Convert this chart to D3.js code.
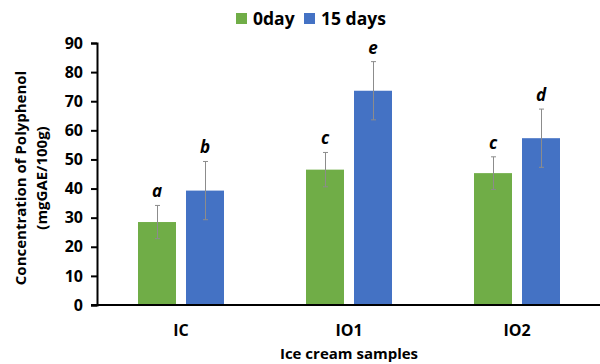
<!doctype html>
<html>
<head>
<meta charset="utf-8">
<script src="https://cdn.jsdelivr.net/npm/d3@7"></script>
<style>
	body { margin: 0; background: #fff; }
	text { font-family: "Open Sans", "Noto Sans", sans-serif; font-weight: bold; }
</style>
</head>
<body>
<div id="main"></div>
<script>
// data
var categories = ['IC', 'IO1', 'IO2'];
var seriesNames = ['0day', '15 days'];
var day0 = [28.5, 46.5, 45.3];
var day15 = [39.3, 73.6, 57.3];
var err0 = [5.7, 5.9, 5.6];
var err15 = [10, 10, 10];
var letters0 = ['a', 'c', 'c'];
var letters15 = ['b', 'e', 'd'];
var yTicks = [0, 10, 20, 30, 40, 50, 60, 70, 80, 90];
var colors = ['#70AD47', '#4472C4'];

var width = 600, height = 364;
var margin = { top: 43, right: 0, bottom: 59, left: 97 };

var svg = d3.select('#main').append('svg')
	.attr('width', width)
	.attr('height', height);

var x0 = d3.scaleBand()
	.domain(categories)
	.range([margin.left, 601])
	.padding(0);

var bw = x0.bandwidth();
var x1 = d3.scaleBand()
	.domain(seriesNames)
	.range([bw / 2 - 43, bw / 2 + 43])
	.paddingInner(10 / 48);

var y = d3.scaleLinear()
	.domain([0, 90])
	.range([height - margin.bottom, margin.top]);

// build rows
var rows = [];
categories.forEach(function(c, i) {
	rows.push({ cat: c, s: seriesNames[0], v: day0[i], e: err0[i], l: letters0[i], col: colors[0] });
	rows.push({ cat: c, s: seriesNames[1], v: day15[i], e: err15[i], l: letters15[i], col: colors[1] });
});

// bars
svg.append('g').selectAll('rect')
	.data(rows)
	.enter().append('rect')
	.attr('x', function(d) { return x0(d.cat) + x1(d.s); })
	.attr('y', function(d) { return y(d.v); })
	.attr('width', x1.bandwidth())
	.attr('height', function(d) { return y(0) - y(d.v); })
	.attr('fill', function(d) { return d.col; });

// error bars
var eb = svg.append('g')
	.attr('stroke', '#8c8c8c')
	.attr('stroke-width', 1);
rows.forEach(function(d) {
	var cx = Math.round(x0(d.cat) + x1(d.s) + x1.bandwidth() / 2) + 0.5;
	var t = y(d.v + d.e), b = y(d.v - d.e);
	eb.append('line').attr('x1', cx).attr('x2', cx).attr('y1', t).attr('y2', b);
	eb.append('line').attr('x1', cx - 2.5).attr('x2', cx + 2.5).attr('y1', t).attr('y2', t);
	eb.append('line').attr('x1', cx - 2.5).attr('x2', cx + 2.5).attr('y1', b).attr('y2', b);
});

// significance letters
svg.append('g').selectAll('text')
	.data(rows)
	.enter().append('text')
	.attr('x', function(d) { return x0(d.cat) + x1(d.s) + x1.bandwidth() / 2; })
	.attr('y', function(d) { return y(d.v + d.e) - 8; })
	.attr('text-anchor', 'middle')
	.attr('font-size', 17)
	.attr('font-style', 'italic')
	.attr('fill', '#000')
	.text(function(d) { return d.l; });

// y axis
var yAxis = svg.append('g')
	.attr('transform', 'translate(' + margin.left + ',0)')
	.call(d3.axisLeft(y).tickValues(yTicks).tickSize(6).tickPadding(8));
yAxis.select('.domain').attr('stroke', '#000').attr('stroke-width', 2);
yAxis.selectAll('.tick line').attr('stroke', '#000').attr('stroke-width', 2);
yAxis.selectAll('.tick text').attr('font-size', 16).attr('fill', '#000')
	.style('font-family', '"Open Sans", sans-serif').style('font-weight', 'bold');

// x axis
svg.append('line')
	.attr('x1', margin.left - 6).attr('x2', 600)
	.attr('y1', y(0)).attr('y2', y(0))
	.attr('stroke', '#000').attr('stroke-width', 2);

svg.append('g').selectAll('text')
	.data(categories)
	.enter().append('text')
	.attr('x', function(d) { return x0(d) + bw / 2; })
	.attr('y', 336)
	.attr('text-anchor', 'middle')
	.attr('font-size', 16)
	.text(function(d) { return d; });

// axis titles
svg.append('text')
	.attr('x', 349).attr('y', 359)
	.attr('text-anchor', 'middle')
	.attr('font-size', 15)
	.text('Ice cream samples');

var yt = svg.append('text')
	.attr('transform', 'translate(26,178) rotate(-90)')
	.attr('text-anchor', 'middle')
	.attr('font-size', 15);
yt.append('tspan').attr('x', 0).attr('dy', 0).text('Concentration of Polyphenol');
yt.append('tspan').attr('x', 0).attr('dy', 21).text('(mgGAE/100g)');

// legend
var legend = svg.append('g');
var legX = [236, 304];
seriesNames.forEach(function(s, i) {
	legend.append('rect')
		.attr('x', legX[i]).attr('y', 13)
		.attr('width', 11).attr('height', 11)
		.attr('fill', colors[i]);
	legend.append('text')
		.attr('x', legX[i] + 17).attr('y', 24.5)
		.attr('font-size', 17.5)
		.text(s);
});
</script>
</body>
</html>
